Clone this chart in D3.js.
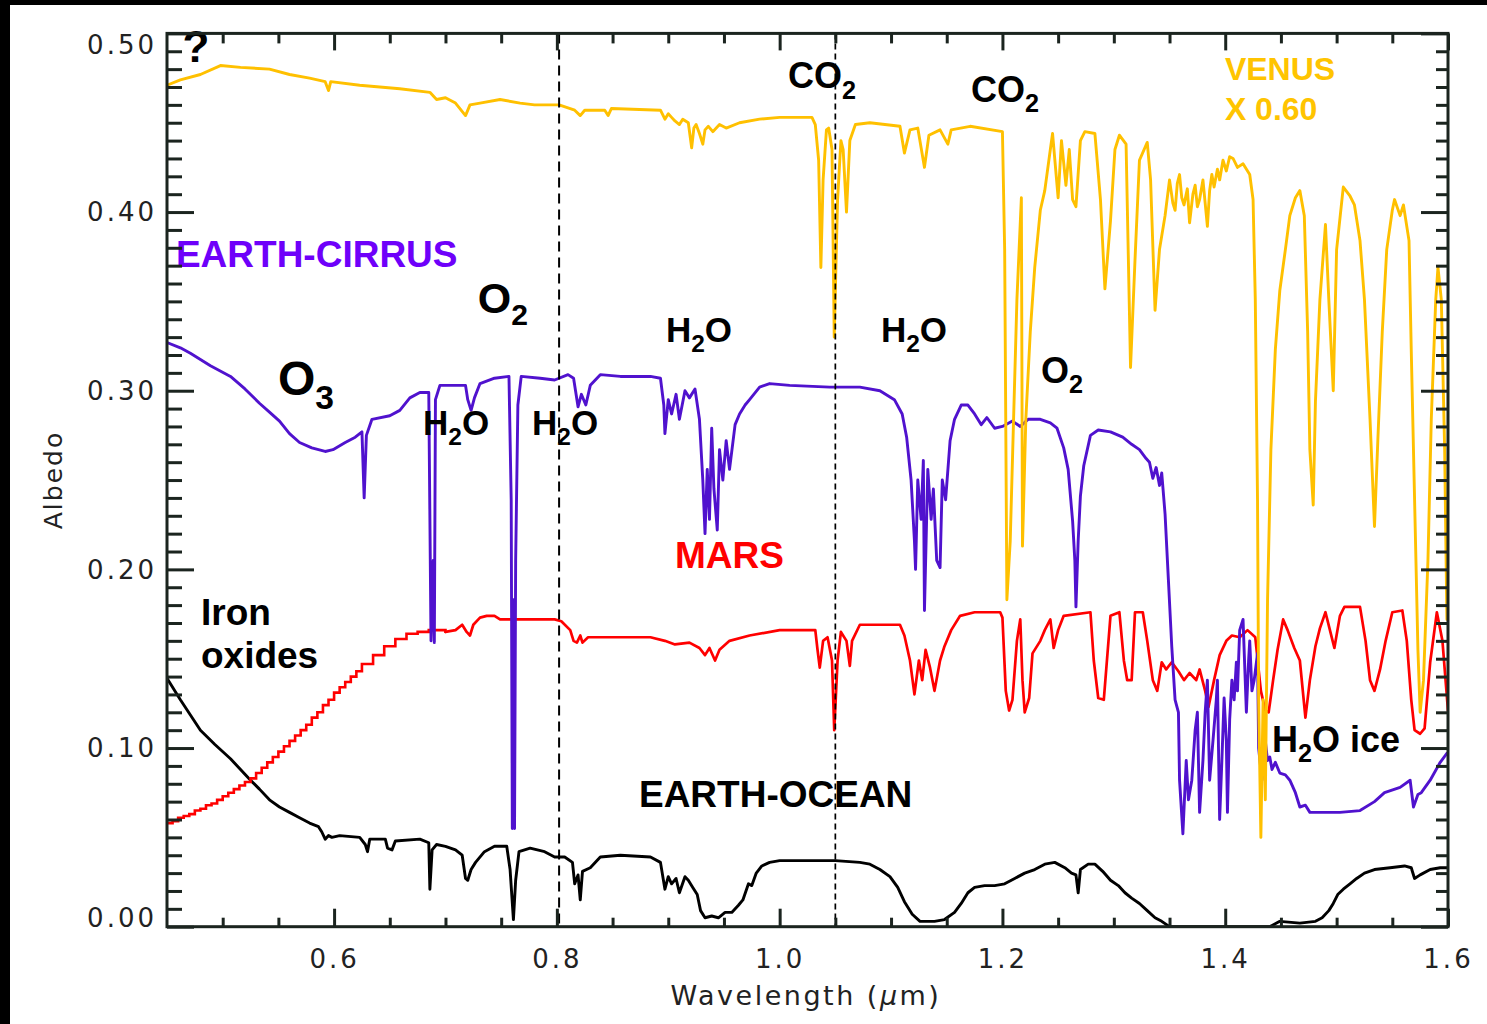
<!DOCTYPE html>
<html>
<head>
<meta charset="utf-8">
<title>Albedo spectra: Venus, Earth, Mars</title>
<script src="https://cdn.jsdelivr.net/npm/d3@7"></script>
<style>
  html, body { margin: 0; padding: 0; background: #fff; }
  svg { display: block; }
</style>
</head>
<body>
<svg id="chart" width="1487" height="1024"></svg>
<script>
// ---------- data: [wavelength (µm), albedo] ----------
const xTickValues = [0.6, 0.8, 1.0, 1.2, 1.4, 1.6];
const xTickLabels = ["0.6", "0.8", "1.0", "1.2", "1.4", "1.6"];
const yTickValues = [0.0, 0.1, 0.2, 0.3, 0.4, 0.5];
const yTickLabels = ["0.00", "0.10", "0.20", "0.30", "0.40", "0.50"];

// Venus (scaled by 0.60)
const venus = [
  [0.450,0.471],[0.462,0.474],[0.480,0.477],[0.498,0.482],[0.516,0.481],[0.542,0.480],[0.560,0.477],
  [0.578,0.475],[0.592,0.473],[0.595,0.468],[0.597,0.473],[0.623,0.471],[0.659,0.469],[0.686,0.467],
  [0.692,0.463],[0.700,0.464],[0.709,0.461],[0.718,0.454],[0.722,0.460],[0.731,0.461],[0.749,0.463],
  [0.767,0.461],[0.780,0.460],[0.802,0.460],[0.816,0.457],[0.821,0.454],[0.825,0.457],[0.843,0.457],
  [0.846,0.454],[0.849,0.458],[0.893,0.457],[0.897,0.452],[0.900,0.455],[0.903,0.453],[0.906,0.451],
  [0.910,0.449],[0.913,0.452],[0.918,0.450],[0.921,0.436],[0.923,0.447],[0.925,0.449],[0.928,0.444],
  [0.931,0.438],[0.933,0.446],[0.936,0.448],[0.940,0.445],[0.946,0.449],[0.952,0.447],[0.964,0.450],
  [0.982,0.452],[1.000,0.453],[1.029,0.453],[1.032,0.449],[1.035,0.429],[1.037,0.369],[1.039,0.418],
  [1.042,0.446],[1.044,0.447],[1.047,0.435],[1.049,0.330],[1.052,0.407],[1.055,0.440],[1.057,0.435],
  [1.060,0.400],[1.063,0.440],[1.068,0.449],[1.081,0.450],[1.108,0.448],[1.112,0.433],[1.117,0.446],
  [1.124,0.447],[1.130,0.425],[1.134,0.443],[1.144,0.446],[1.151,0.438],[1.154,0.446],[1.171,0.448],
  [1.200,0.445],[1.202,0.379],[1.204,0.183],[1.207,0.216],[1.210,0.284],[1.213,0.351],[1.217,0.408],
  [1.218,0.213],[1.221,0.284],[1.225,0.333],[1.229,0.369],[1.234,0.401],[1.238,0.412],[1.243,0.435],
  [1.245,0.444],[1.250,0.408],[1.253,0.440],[1.257,0.415],[1.260,0.435],[1.263,0.407],[1.266,0.403],
  [1.270,0.440],[1.274,0.445],[1.283,0.444],[1.288,0.407],[1.292,0.357],[1.297,0.395],[1.301,0.435],
  [1.305,0.443],[1.311,0.438],[1.315,0.313],[1.319,0.373],[1.323,0.429],[1.330,0.439],[1.333,0.418],
  [1.337,0.345],[1.341,0.379],[1.346,0.398],[1.350,0.418],[1.353,0.405],[1.355,0.401],[1.357,0.416],
  [1.359,0.421],[1.361,0.408],[1.363,0.404],[1.366,0.413],[1.368,0.394],[1.371,0.410],[1.373,0.415],
  [1.375,0.403],[1.377,0.407],[1.380,0.418],[1.384,0.392],[1.386,0.412],[1.388,0.421],[1.390,0.414],
  [1.393,0.424],[1.395,0.418],[1.398,0.429],[1.401,0.423],[1.404,0.431],[1.407,0.430],[1.411,0.425],
  [1.416,0.427],[1.422,0.421],[1.425,0.407],[1.427,0.351],[1.429,0.239],[1.430,0.127],[1.432,0.050],
  [1.434,0.127],[1.436,0.071],[1.438,0.183],[1.441,0.267],[1.445,0.323],[1.449,0.356],[1.454,0.379],
  [1.458,0.398],[1.463,0.408],[1.467,0.412],[1.471,0.398],[1.474,0.333],[1.476,0.267],[1.479,0.236],
  [1.481,0.294],[1.485,0.351],[1.490,0.393],[1.493,0.351],[1.497,0.300],[1.500,0.379],[1.506,0.414],
  [1.512,0.409],[1.516,0.404],[1.521,0.384],[1.525,0.351],[1.530,0.284],[1.534,0.224],[1.537,0.272],
  [1.541,0.333],[1.545,0.379],[1.550,0.401],[1.552,0.407],[1.557,0.398],[1.560,0.404],[1.565,0.384],
  [1.567,0.323],[1.570,0.239],[1.573,0.155],[1.575,0.120],[1.578,0.138],[1.582,0.205],[1.585,0.284],
  [1.589,0.351],[1.591,0.369],[1.594,0.351],[1.597,0.267],[1.599,0.172]
];

// Earth with cirrus cloud cover
const earthCirrus = [
  [0.450,0.327],[0.462,0.324],[0.471,0.321],[0.489,0.314],[0.507,0.308],[0.520,0.301],[0.533,0.293],
  [0.542,0.288],[0.551,0.283],[0.560,0.276],[0.569,0.271],[0.580,0.268],[0.592,0.266],[0.599,0.267],
  [0.610,0.271],[0.619,0.274],[0.625,0.277],[0.627,0.240],[0.629,0.275],[0.634,0.284],[0.650,0.286],
  [0.659,0.289],[0.668,0.296],[0.677,0.299],[0.685,0.299],[0.687,0.160],[0.689,0.205],[0.690,0.159],
  [0.691,0.295],[0.695,0.303],[0.709,0.303],[0.718,0.303],[0.720,0.295],[0.723,0.289],[0.726,0.296],
  [0.731,0.304],[0.744,0.307],[0.757,0.308],[0.759,0.239],[0.760,0.055],[0.761,0.183],[0.762,0.055],
  [0.763,0.205],[0.765,0.292],[0.768,0.308],[0.785,0.307],[0.798,0.306],[0.810,0.309],[0.815,0.307],
  [0.819,0.291],[0.822,0.298],[0.826,0.292],[0.830,0.303],[0.839,0.309],[0.857,0.308],[0.884,0.308],
  [0.893,0.307],[0.896,0.292],[0.897,0.276],[0.900,0.295],[0.903,0.287],[0.907,0.298],[0.910,0.284],
  [0.915,0.300],[0.919,0.296],[0.924,0.301],[0.928,0.284],[0.931,0.250],[0.933,0.220],[0.935,0.256],
  [0.937,0.228],[0.939,0.279],[0.941,0.245],[0.944,0.222],[0.946,0.267],[0.949,0.250],[0.952,0.272],
  [0.955,0.256],[0.960,0.281],[0.964,0.287],[0.969,0.292],[0.973,0.295],[0.982,0.302],[0.991,0.304],
  [1.009,0.303],[1.045,0.302],[1.072,0.302],[1.090,0.300],[1.103,0.295],[1.110,0.287],[1.114,0.274],
  [1.118,0.250],[1.121,0.216],[1.122,0.200],[1.124,0.250],[1.127,0.228],[1.129,0.261],[1.130,0.177],
  [1.133,0.256],[1.136,0.228],[1.138,0.245],[1.141,0.205],[1.144,0.201],[1.146,0.250],[1.149,0.239],
  [1.153,0.272],[1.157,0.284],[1.163,0.292],[1.169,0.292],[1.175,0.287],[1.181,0.281],[1.186,0.285],
  [1.193,0.279],[1.200,0.280],[1.209,0.283],[1.216,0.280],[1.223,0.284],[1.234,0.284],[1.243,0.282],
  [1.249,0.279],[1.255,0.268],[1.259,0.256],[1.263,0.227],[1.265,0.205],[1.266,0.179],[1.268,0.216],
  [1.270,0.241],[1.273,0.258],[1.279,0.275],[1.286,0.278],[1.297,0.277],[1.308,0.274],[1.316,0.270],
  [1.323,0.267],[1.329,0.262],[1.332,0.260],[1.335,0.251],[1.338,0.257],[1.341,0.247],[1.343,0.254],
  [1.346,0.231],[1.349,0.194],[1.352,0.157],[1.355,0.127],[1.358,0.120],[1.359,0.082],[1.362,0.052],
  [1.365,0.093],[1.367,0.071],[1.370,0.082],[1.373,0.110],[1.375,0.120],[1.377,0.064],[1.380,0.093],
  [1.382,0.120],[1.384,0.138],[1.386,0.082],[1.389,0.104],[1.392,0.127],[1.393,0.138],[1.395,0.060],
  [1.397,0.093],[1.399,0.128],[1.401,0.104],[1.402,0.064],[1.404,0.116],[1.406,0.138],[1.408,0.127],
  [1.410,0.148],[1.411,0.132],[1.413,0.166],[1.416,0.172],[1.419,0.120],[1.421,0.149],[1.422,0.160],
  [1.424,0.132],[1.426,0.138],[1.429,0.153],[1.430,0.100],[1.433,0.082],[1.436,0.104],[1.438,0.093],
  [1.440,0.095],[1.442,0.088],[1.445,0.092],[1.449,0.086],[1.454,0.085],[1.458,0.082],[1.463,0.075],
  [1.467,0.067],[1.472,0.068],[1.476,0.064],[1.485,0.064],[1.503,0.064],[1.521,0.065],[1.534,0.070],
  [1.543,0.075],[1.557,0.078],[1.566,0.082],[1.569,0.067],[1.573,0.074],[1.576,0.075],[1.584,0.082],
  [1.593,0.092],[1.599,0.097]
];

// Mars (low-resolution visible part is plotted as a histogram)
const mars = [
  [0.450,0.058],[0.455,0.059],[0.460,0.061],[0.465,0.062],[0.470,0.063],[0.475,0.065],[0.480,0.066],
  [0.485,0.068],[0.490,0.069],[0.495,0.071],[0.500,0.073],[0.505,0.075],[0.510,0.077],[0.515,0.079],
  [0.520,0.081],[0.525,0.083],[0.530,0.086],[0.535,0.089],[0.540,0.092],[0.545,0.095],[0.550,0.098],
  [0.555,0.101],[0.560,0.104],[0.565,0.107],[0.570,0.110],[0.575,0.113],[0.580,0.117],[0.585,0.120],
  [0.590,0.124],[0.595,0.127],[0.600,0.131],[0.605,0.134],[0.610,0.137],[0.615,0.140],[0.620,0.143],
  [0.625,0.147],[0.635,0.152],[0.645,0.157],[0.655,0.161],[0.665,0.164],[0.675,0.165],[0.685,0.166],
  [0.695,0.166],[0.700,0.165],[0.709,0.166],[0.715,0.169],[0.719,0.165],[0.722,0.163],[0.725,0.169],
  [0.731,0.173],[0.737,0.174],[0.744,0.174],[0.749,0.172],[0.776,0.172],[0.798,0.172],[0.804,0.171],
  [0.812,0.166],[0.815,0.160],[0.818,0.159],[0.821,0.163],[0.823,0.159],[0.828,0.162],[0.839,0.162],
  [0.884,0.162],[0.897,0.160],[0.906,0.158],[0.919,0.159],[0.928,0.156],[0.933,0.152],[0.937,0.156],
  [0.942,0.149],[0.946,0.155],[0.955,0.160],[0.973,0.163],[1.000,0.166],[1.032,0.166],[1.034,0.155],
  [1.036,0.145],[1.039,0.160],[1.043,0.162],[1.047,0.149],[1.049,0.110],[1.052,0.149],[1.055,0.165],
  [1.060,0.160],[1.063,0.146],[1.065,0.160],[1.072,0.169],[1.108,0.169],[1.112,0.163],[1.117,0.149],
  [1.121,0.130],[1.125,0.149],[1.128,0.138],[1.131,0.155],[1.135,0.145],[1.139,0.132],[1.144,0.149],
  [1.148,0.157],[1.154,0.166],[1.162,0.174],[1.175,0.176],[1.198,0.176],[1.200,0.173],[1.203,0.132],
  [1.206,0.121],[1.209,0.127],[1.213,0.160],[1.216,0.172],[1.218,0.138],[1.220,0.120],[1.224,0.128],
  [1.227,0.153],[1.234,0.160],[1.238,0.166],[1.243,0.172],[1.246,0.156],[1.250,0.166],[1.255,0.174],
  [1.279,0.176],[1.282,0.149],[1.286,0.128],[1.291,0.127],[1.297,0.174],[1.305,0.176],[1.309,0.149],
  [1.312,0.138],[1.316,0.138],[1.319,0.176],[1.326,0.176],[1.330,0.160],[1.335,0.138],[1.339,0.132],
  [1.343,0.148],[1.347,0.144],[1.352,0.148],[1.358,0.143],[1.363,0.138],[1.368,0.142],[1.374,0.138],
  [1.377,0.144],[1.382,0.132],[1.385,0.123],[1.390,0.138],[1.395,0.152],[1.401,0.160],[1.406,0.163],
  [1.413,0.162],[1.420,0.166],[1.427,0.162],[1.432,0.132],[1.436,0.121],[1.439,0.120],[1.443,0.138],
  [1.447,0.155],[1.452,0.172],[1.456,0.166],[1.462,0.156],[1.467,0.149],[1.472,0.117],[1.476,0.138],
  [1.481,0.157],[1.485,0.167],[1.490,0.176],[1.494,0.166],[1.498,0.156],[1.503,0.174],[1.507,0.179],
  [1.521,0.179],[1.526,0.160],[1.530,0.138],[1.534,0.132],[1.539,0.144],[1.544,0.160],[1.550,0.176],
  [1.559,0.177],[1.563,0.160],[1.567,0.127],[1.570,0.110],[1.575,0.108],[1.579,0.111],[1.584,0.148],
  [1.590,0.176],[1.595,0.160],[1.600,0.121]
];
const marsHistogramEnd = 0.70;

// Earth over open ocean
const earthOcean = [
  [0.450,0.139],[0.462,0.127],[0.480,0.110],[0.493,0.102],[0.507,0.094],[0.516,0.088],[0.525,0.082],
  [0.533,0.077],[0.542,0.071],[0.551,0.067],[0.560,0.064],[0.569,0.061],[0.578,0.058],[0.586,0.056],
  [0.589,0.053],[0.592,0.049],[0.595,0.051],[0.598,0.050],[0.605,0.051],[0.623,0.050],[0.628,0.046],
  [0.630,0.042],[0.632,0.049],[0.646,0.049],[0.648,0.044],[0.652,0.043],[0.655,0.048],[0.677,0.049],
  [0.685,0.047],[0.686,0.021],[0.688,0.043],[0.692,0.046],[0.700,0.045],[0.709,0.043],[0.715,0.040],
  [0.718,0.027],[0.720,0.026],[0.723,0.032],[0.727,0.036],[0.735,0.042],[0.744,0.045],[0.755,0.045],
  [0.758,0.032],[0.761,0.004],[0.763,0.026],[0.766,0.042],[0.776,0.044],[0.789,0.042],[0.798,0.039],
  [0.807,0.039],[0.814,0.036],[0.816,0.024],[0.819,0.029],[0.821,0.015],[0.823,0.031],[0.830,0.033],
  [0.839,0.039],[0.857,0.040],[0.884,0.039],[0.893,0.036],[0.897,0.021],[0.900,0.028],[0.903,0.024],
  [0.907,0.027],[0.910,0.019],[0.915,0.028],[0.918,0.026],[0.922,0.022],[0.926,0.018],[0.929,0.009],
  [0.933,0.005],[0.939,0.006],[0.945,0.005],[0.951,0.008],[0.957,0.008],[0.963,0.012],[0.967,0.015],
  [0.972,0.024],[0.975,0.023],[0.979,0.030],[0.984,0.034],[0.991,0.036],[1.000,0.037],[1.018,0.037],
  [1.050,0.037],[1.072,0.036],[1.081,0.035],[1.090,0.032],[1.099,0.028],[1.106,0.022],[1.112,0.014],
  [1.119,0.007],[1.126,0.003],[1.139,0.003],[1.148,0.004],[1.157,0.008],[1.163,0.013],[1.169,0.019],
  [1.175,0.022],[1.184,0.023],[1.193,0.023],[1.202,0.024],[1.211,0.027],[1.220,0.030],[1.229,0.032],
  [1.238,0.035],[1.247,0.036],[1.256,0.033],[1.262,0.030],[1.266,0.029],[1.268,0.019],[1.270,0.032],
  [1.277,0.035],[1.283,0.035],[1.290,0.031],[1.297,0.026],[1.304,0.023],[1.310,0.019],[1.316,0.016],
  [1.323,0.013],[1.330,0.009],[1.337,0.005],[1.343,0.003],[1.350,0.000],[1.400,0.000],[1.440,0.000],
  [1.449,0.003],[1.467,0.002],[1.481,0.003],[1.487,0.005],[1.493,0.009],[1.497,0.013],[1.501,0.018],
  [1.506,0.021],[1.512,0.024],[1.518,0.027],[1.525,0.030],[1.534,0.032],[1.548,0.033],[1.561,0.034],
  [1.567,0.033],[1.570,0.027],[1.575,0.029],[1.584,0.032],[1.593,0.033],[1.599,0.033]
];

// Reference wavelengths marked with dashed lines
const markerWavelengths = [0.802, 1.05];

// Text annotations, anchored in data coordinates (baseline-left)
const annotations = [
  { parts: [["?", 0]],                        w: 0.464, a: 0.484, size: 44, color: "#000" },
  { parts: [["EARTH-CIRRUS", 0]],             w: 0.458, a: 0.369, size: 37, color: "#6E00FA" },
  { parts: [["O", 0], ["2", 1]],              w: 0.729, a: 0.3435, size: 43, color: "#000" },
  { parts: [["O", 0], ["3", 1]],              w: 0.5496, a: 0.2976, size: 48, color: "#000" },
  { parts: [["H", 0], ["2", 1], ["O", 0]],    w: 0.6798, a: 0.2752, size: 35, color: "#000" },
  { parts: [["H", 0], ["2", 1], ["O", 0]],    w: 0.7777, a: 0.2752, size: 35, color: "#000" },
  { parts: [["H", 0], ["2", 1], ["O", 0]],    w: 0.8979, a: 0.3273, size: 35, color: "#000" },
  { parts: [["H", 0], ["2", 1], ["O", 0]],    w: 1.0909, a: 0.3273, size: 35, color: "#000" },
  { parts: [["CO", 0], ["2", 1]],             w: 1.0075, a: 0.4694, size: 36, color: "#000" },
  { parts: [["CO", 0], ["2", 1]],             w: 1.1717, a: 0.4616, size: 36, color: "#000" },
  { parts: [["O", 0], ["2", 1]],              w: 1.2346, a: 0.3043, size: 36, color: "#000" },
  { parts: [["VENUS", 0]],                    w: 1.3997, a: 0.4739, size: 32, color: "#FFC400" },
  { parts: [["X 0.60", 0]],                   w: 1.3997, a: 0.4516, size: 32, color: "#FFC400" },
  { parts: [["MARS", 0]],                     w: 0.906, a: 0.2008, size: 37, color: "#FF0000" },
  { parts: [["Iron", 0]],                     w: 0.4805, a: 0.1689, size: 37, color: "#000" },
  { parts: [["oxides", 0]],                   w: 0.4805, a: 0.1448, size: 37, color: "#000" },
  { parts: [["EARTH-OCEAN", 0]],              w: 0.8737, a: 0.0670, size: 37, color: "#000" },
  { parts: [["H", 0], ["2", 1], ["O ice", 0]], w: 1.4419, a: 0.0978, size: 36, color: "#000" }
];

// ---------- layout ----------
const W = 1487, H = 1024;
const plot = { left: 167, right: 1448, top: 33.4, bottom: 926.7 };
const axisColor = "#1b241f";

const x = d3.scaleLinear().domain([0.45, 1.6]).range([plot.left, plot.right]);
const y = d3.scaleLinear().domain([0, 0.5]).range([plot.bottom, plot.top]);

const svg = d3.select("#chart");
svg.append("rect").attr("width", W).attr("height", H).attr("fill", "#fff");

// dark frame strips at the top and left edges
svg.append("rect").attr("x", 0).attr("y", 0).attr("width", W).attr("height", 5).attr("fill", "#000");
svg.append("rect").attr("x", 0).attr("y", 0).attr("width", 10).attr("height", H).attr("fill", "#000");

svg.append("defs").append("clipPath").attr("id", "plotClip")
  .append("rect")
  .attr("x", plot.left).attr("y", plot.top - 2)
  .attr("width", plot.right - plot.left).attr("height", plot.bottom - plot.top + 2);

// ---------- spectra ----------
const lineGen = d3.line().x(d => x(d[0])).y(d => y(d[1]));
const stepGen = d3.line().x(d => x(d[0])).y(d => y(d[1])).curve(d3.curveStepAfter);

const series = svg.append("g").attr("clip-path", "url(#plotClip)")
  .attr("fill", "none").attr("stroke-linejoin", "round").attr("stroke-linecap", "round");

series.append("path").datum(earthOcean).attr("d", lineGen)
  .attr("stroke", "#000").attr("stroke-width", 2.9);

series.append("path").datum(mars.filter(d => d[0] <= marsHistogramEnd)).attr("d", stepGen)
  .attr("stroke", "#FF0000").attr("stroke-width", 2.6).attr("stroke-linejoin", "miter");
series.append("path").datum(mars.filter(d => d[0] >= marsHistogramEnd)).attr("d", lineGen)
  .attr("stroke", "#FF0000").attr("stroke-width", 2.7);

series.append("path").datum(earthCirrus).attr("d", lineGen)
  .attr("stroke", "#5012CE").attr("stroke-width", 2.9);

series.append("path").datum(venus).attr("d", lineGen)
  .attr("stroke", "#FFC000").attr("stroke-width", 2.9);

// ---------- annotations ----------
const labelLayer = svg.append("g")
  .attr("font-family", "'Liberation Sans', Arial, Helvetica, sans-serif")
  .attr("font-weight", "bold");

annotations.forEach(lab => {
  const bx = x(lab.w), by = y(lab.a);
  const t = labelLayer.append("text")
    .attr("x", bx).attr("y", by)
    .attr("font-size", lab.size).attr("fill", lab.color);
  lab.parts.forEach(([str, isSub]) => {
    const ts = t.append("tspan").text(str);
    if (isSub) {
      ts.attr("font-size", lab.size * 0.7).attr("y", by + lab.size * 0.29);
    } else {
      ts.attr("y", by);
    }
  });
});

// ---------- dashed marker lines ----------
const markerStyles = [
  { width: 2.0, dash: "10,6" },
  { width: 1.7, dash: "6,4" }
];
markerWavelengths.forEach((w, i) => {
  svg.append("line")
    .attr("x1", x(w)).attr("x2", x(w))
    .attr("y1", plot.top).attr("y2", plot.bottom)
    .attr("stroke", "#000")
    .attr("stroke-width", markerStyles[i].width)
    .attr("stroke-dasharray", markerStyles[i].dash);
});

// ---------- axes ----------
const xMinor = d3.range(10, 33).map(i => +(i * 0.05).toFixed(2))
  .filter(v => Math.abs(v * 5 - Math.round(v * 5)) > 1e-6);
const yMinor = d3.range(1, 50).map(i => i / 100).filter(v => (Math.round(v * 100) % 10) !== 0);

function styleAxis(g) {
  g.select(".domain").remove();
  g.selectAll(".tick line").attr("stroke", axisColor).attr("stroke-width", 3);
  g.attr("color", axisColor);
}

function tickAxis(axis, values, size, tx, ty) {
  svg.append("g").attr("transform", `translate(${tx},${ty})`)
    .call(axis.tickValues(values).tickSizeInner(size).tickSizeOuter(0).tickFormat(""))
    .call(styleAxis);
}

// minor ticks on all four sides
tickAxis(d3.axisBottom(x), xMinor, -9, 0, plot.bottom);
tickAxis(d3.axisTop(x), xMinor, -10, 0, plot.top);
tickAxis(d3.axisLeft(y), yMinor, -15, plot.left, 0);
tickAxis(d3.axisRight(y), yMinor, -12, plot.right, 0);
// major ticks on top and right (no labels)
tickAxis(d3.axisTop(x), xTickValues, -17, 0, plot.top);
tickAxis(d3.axisRight(y), yTickValues, -27, plot.right, 0);

const tickFont = "'DejaVu Sans', Verdana, sans-serif";

// labelled bottom axis
const gx = svg.append("g").attr("transform", `translate(0,${plot.bottom})`)
  .call(d3.axisBottom(x).tickValues(xTickValues).tickSizeInner(-18).tickSizeOuter(0)
    .tickPadding(23).tickFormat((d, i) => xTickLabels[i]))
  .call(styleAxis);
gx.selectAll("text").attr("font-family", tickFont).attr("font-size", 26)
  .attr("letter-spacing", 3).attr("fill", "#222");

// labelled left axis
const gy = svg.append("g").attr("transform", `translate(${plot.left},0)`)
  .call(d3.axisLeft(y).tickValues(yTickValues).tickSizeInner(-27).tickSizeOuter(0)
    .tickPadding(10).tickFormat((d, i) => yTickLabels[i]))
  .call(styleAxis);
gy.selectAll("text").attr("font-family", tickFont).attr("font-size", 26)
  .attr("letter-spacing", 3).attr("fill", "#222")
  .attr("dy", d => d === 0 ? "0em" : (d === 0.5 ? "0.76em" : "0.34em"));

// frame
svg.append("rect")
  .attr("x", plot.left).attr("y", plot.top)
  .attr("width", plot.right - plot.left).attr("height", plot.bottom - plot.top)
  .attr("fill", "none").attr("stroke", axisColor).attr("stroke-width", 3);

// axis titles
svg.append("text")
  .attr("x", 806).attr("y", 1005)
  .attr("text-anchor", "middle")
  .attr("font-family", tickFont).attr("font-size", 27).attr("letter-spacing", 2.5)
  .attr("fill", "#222")
  .call(t => {
    t.append("tspan").text("Wavelength (");
    t.append("tspan").attr("font-style", "italic").text("\u03BC");
    t.append("tspan").text("m)");
  });

svg.append("text")
  .attr("transform", `translate(62,${(plot.top + plot.bottom) / 2}) rotate(-90)`)
  .attr("text-anchor", "middle")
  .attr("font-family", tickFont).attr("font-size", 25).attr("letter-spacing", 2)
  .attr("fill", "#222")
  .text("Albedo");
</script>
</body>
</html>
